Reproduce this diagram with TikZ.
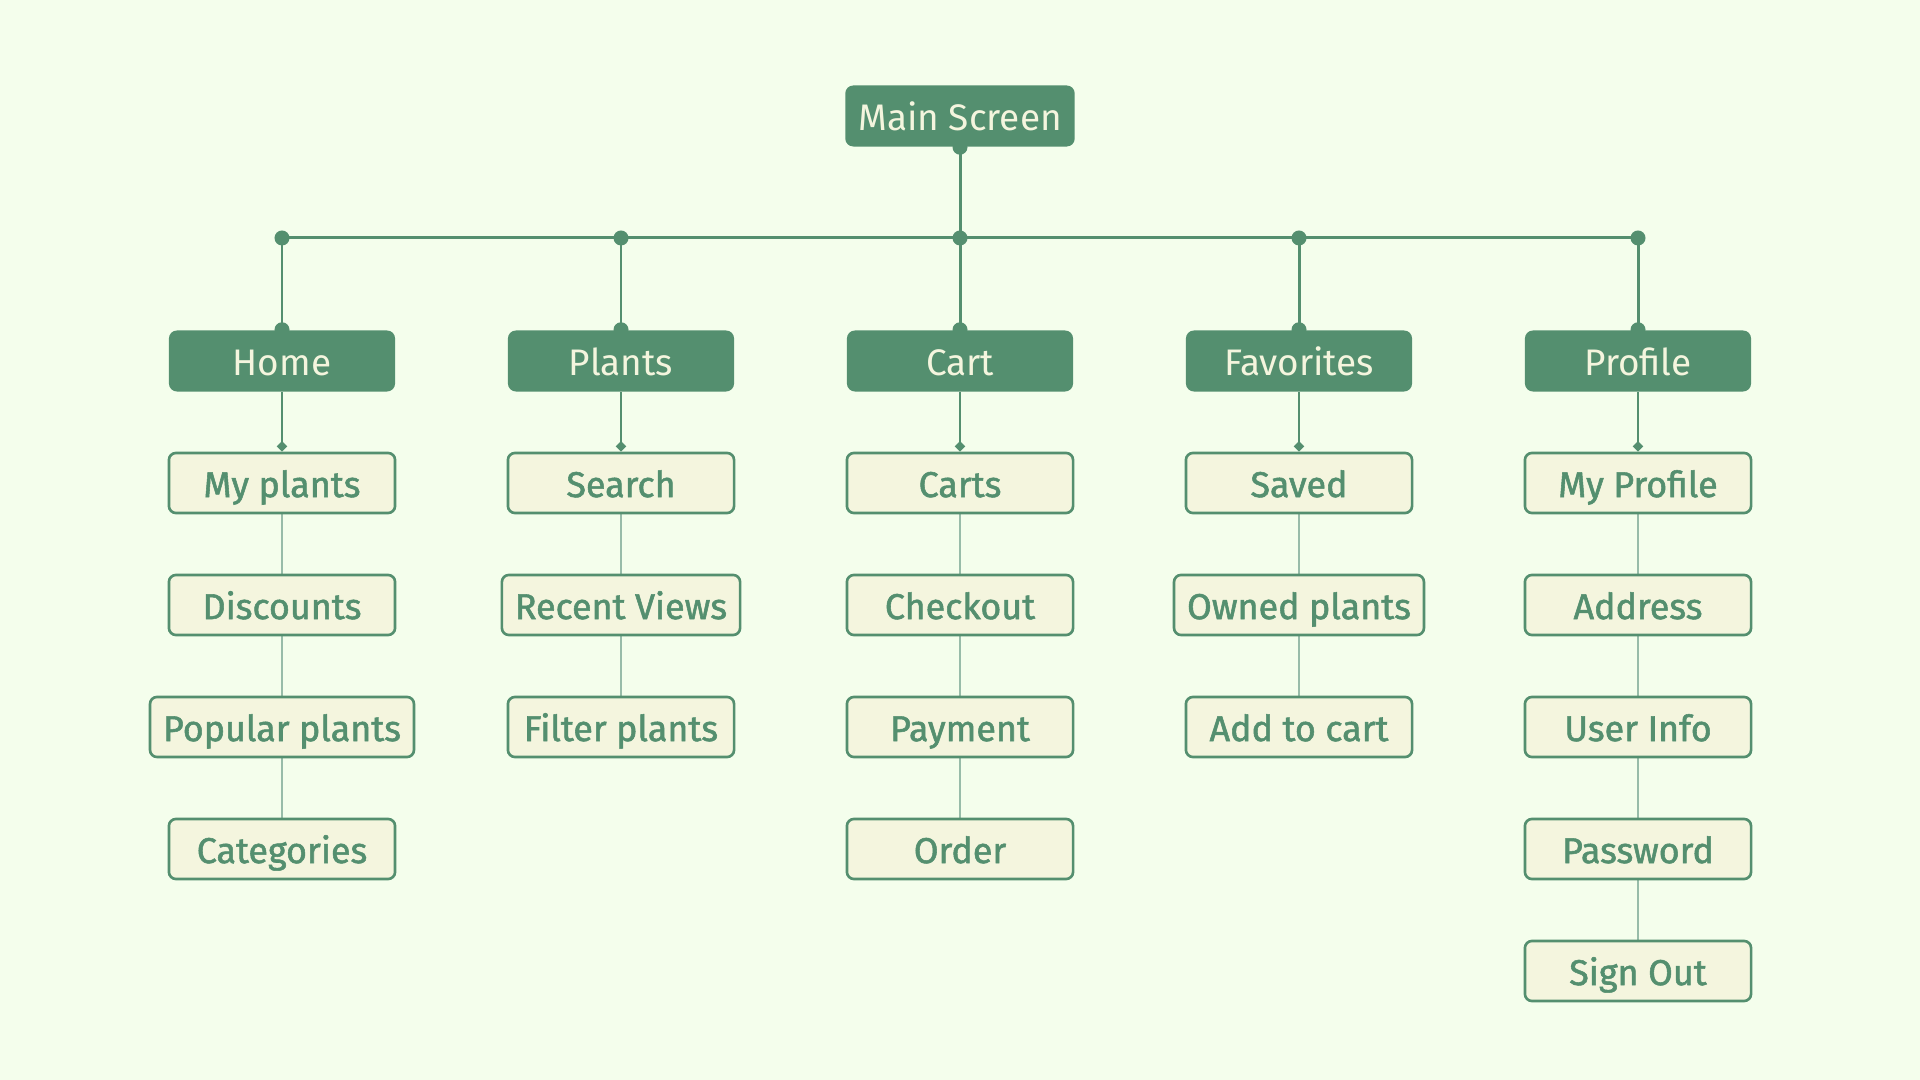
\documentclass[tikz,border=0pt]{standalone}
\usepackage{fontspec}
\setmainfont{Fira Sans}
\newfontfamily\leaffont[FakeBold=1.5]{Fira Sans}
\usetikzlibrary{arrows.meta}

\definecolor{leafgreen}{RGB}{84,143,111}
\definecolor{paper}{RGB}{244,254,236}
\definecolor{cream}{RGB}{244,245,222}

\pgfdeclarelayer{back}
\pgfdeclarelayer{wires}
\pgfsetlayers{back,wires,main}

\tikzset{
  screen/.style={fill=leafgreen, text=cream, rounded corners=0.08cm, minimum width=2.26cm,
    minimum height=0.61cm, inner xsep=0.13cm, text height=0.85em, text depth=0.05em,
    font=\fontsize{10.5}{12}\selectfont},
  page/.style={draw=leafgreen, line width=0.75pt, fill=cream, text=leafgreen, rounded corners=0.07cm,
    minimum width=2.26cm, minimum height=0.6cm, inner xsep=0.13cm, text height=0.85em, text depth=0.05em,
    font=\leaffont\fontsize{10.2}{12}\selectfont},
  trunk/.style={leafgreen, line width=0.85pt},
  twig/.style={leafgreen, line width=0.4pt, -{Diamond[length=3pt,width=3pt]}},
  chain/.style={leafgreen!60, line width=0.35pt},
  knot/.style={fill=leafgreen},
}

\begin{document}
\begin{tikzpicture}[x=0.01cm,y=-0.01cm]
   \begin{pgfonlayer}{back}
      \fill[paper] (0,0) rectangle (1920,1080);
   \end{pgfonlayer}

   % top level
   \node[screen] (main) at (960,116) {Main Screen};

   % sections
   \node[screen] (home) at (282,361) {Home};
   \node[screen] (plants) at (621,361) {Plants};
   \node[screen] (cart) at (960,361) {Cart};
   \node[screen] (favorites) at (1299,361) {Favorites};
   \node[screen] (profile) at (1638,361) {Profile};

   % home pages
   \node[page] (myplants) at (282,483) {My plants};
   \node[page] (discounts) at (282,605) {Discounts};
   \node[page] (popular) at (282,727) {Popular plants};
   \node[page] (categories) at (282,849) {Categories};

   % plants pages
   \node[page] (search) at (621,483) {Search};
   \node[page] (recent) at (621,605) {Recent Views};
   \node[page] (filter) at (621,727) {Filter plants};

   % cart pages
   \node[page] (carts) at (960,483) {Carts};
   \node[page] (checkout) at (960,605) {Checkout};
   \node[page] (payment) at (960,727) {Payment};
   \node[page] (order) at (960,849) {Order};

   % favorites pages
   \node[page] (saved) at (1299,483) {Saved};
   \node[page] (owned) at (1299,605) {Owned plants};
   \node[page] (addcart) at (1299,727) {Add to cart};

   % profile pages
   \node[page] (myprofile) at (1638,483) {My Profile};
   \node[page] (address) at (1638,605) {Address};
   \node[page] (userinfo) at (1638,727) {User Info};
   \node[page] (password) at (1638,849) {Password};
   \node[page] (signout) at (1638,971) {Sign Out};

   \coordinate (jhome) at (282,238);
   \coordinate (jplants) at (621,238);
   \coordinate (jcart) at (960,238);
   \coordinate (jfav) at (1299,238);
   \coordinate (jprofile) at (1638,238);

   \begin{pgfonlayer}{wires}
      \draw[trunk] (main.south) -- (jcart);
      \draw[trunk] (jhome) -- (jprofile);
      \draw[trunk] (jhome) -- (home.north);
      \draw[trunk] (jplants) -- (plants.north);
      \draw[trunk] (jcart) -- (cart.north);
      \draw[trunk] (jfav) -- (favorites.north);
      \draw[trunk] (jprofile) -- (profile.north);
      \fill[knot] (main.south) circle (0.075cm);
      \fill[knot] (jhome) circle (0.075cm);
      \fill[knot] (jplants) circle (0.075cm);
      \fill[knot] (jcart) circle (0.075cm);
      \fill[knot] (jfav) circle (0.075cm);
      \fill[knot] (jprofile) circle (0.075cm);
      \fill[knot] (home.north) circle (0.075cm);
      \fill[knot] (plants.north) circle (0.075cm);
      \fill[knot] (cart.north) circle (0.075cm);
      \fill[knot] (favorites.north) circle (0.075cm);
      \fill[knot] (profile.north) circle (0.075cm);

      \draw[twig] (home.south) -- (myplants.north);
      \draw[twig] (plants.south) -- (search.north);
      \draw[twig] (cart.south) -- (carts.north);
      \draw[twig] (favorites.south) -- (saved.north);
      \draw[twig] (profile.south) -- (myprofile.north);

      \draw[chain] (myplants) -- (discounts) -- (popular) -- (categories);
      \draw[chain] (search) -- (recent) -- (filter);
      \draw[chain] (carts) -- (checkout) -- (payment) -- (order);
      \draw[chain] (saved) -- (owned) -- (addcart);
      \draw[chain] (myprofile) -- (address) -- (userinfo) -- (password) -- (signout);
   \end{pgfonlayer}
\end{tikzpicture}
\end{document}
